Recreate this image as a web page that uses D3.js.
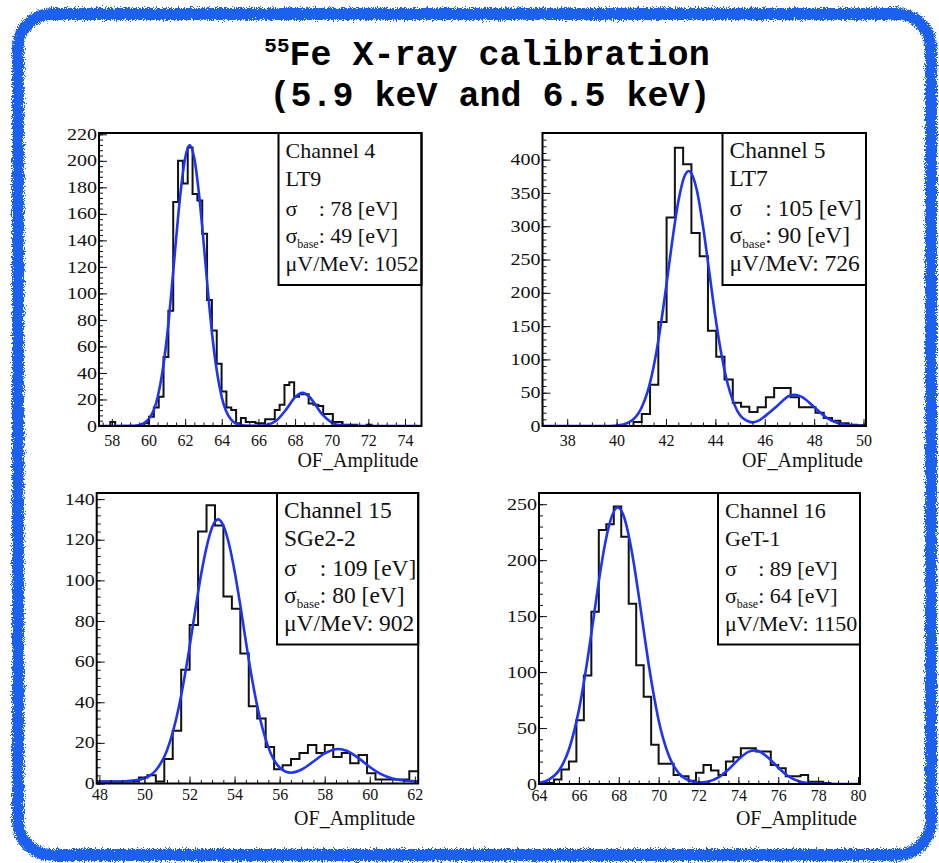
<!DOCTYPE html>
<html>
<head>
<meta charset="utf-8">
<script src="https://cdn.jsdelivr.net/npm/d3@7"></script>
<style>
body { margin: 0; background: #fff; }
text { font-family: "Liberation Serif", "Times New Roman", serif; fill: #111; }
</style>
</head>
<body>
<div id="chart"></div>
<script>
// ---- data ----
var channels  = ["Channel 4", "Channel 5", "Channel 15", "Channel 16"];
var detectors = ["LT9", "LT7", "SGe2-2", "GeT-1"];
var sigmaTot  = [78, 105, 109, 89];
var sigmaBase = [49, 90, 80, 64];
var gains     = [1052, 726, 902, 1150];

var xDomains = [[57.3, 74.9], [37.0, 50.1], [47.88, 62.15], [64.0, 80.1]];
var yMax     = [221, 440, 143, 260];

var xTicks4  = [58, 60, 62, 64, 66, 68, 70, 72, 74];
var xTicks5  = [38, 40, 42, 44, 46, 48, 50];
var xTicks15 = [48, 50, 52, 54, 56, 58, 60, 62];
var xTicks16 = [64, 66, 68, 70, 72, 74, 76, 78, 80];
var yTicks4  = [0, 20, 40, 60, 80, 100, 120, 140, 160, 180, 200, 220];
var yTicks5  = [0, 50, 100, 150, 200, 250, 300, 350, 400];
var yTicks15 = [0, 20, 40, 60, 80, 100, 120, 140];
var yTicks16 = [0, 50, 100, 150, 200, 250];

// histogram bins: first edge, width, counts
var binStart = [57.39, 37.0, 47.88, 64.0];
var binWidth = [0.264, 0.335, 0.375, 0.375];
var counts4 = [0,0,3,0,0,0,0,0,0,2,
  7,14,22,52,87,169,200,183,210,175,
  170,145,95,72,47,26,14,12,2,6,
  3,3,2,2,5,5,12,16,31,33,
  22,24,24,17,16,15,9,9,3,3,
  1,1,1,0,0,1,0,0,0,0,
  0,0,0,0,0,0];
var counts5 = [0,0,0,0,0,0,0,0,0,0,
  0,6,18,62,156,313,418,393,290,255,
  143,104,70,35,29,21,28,43,57,57,
  43,28,28,20,12,8,4,2,1];
var counts15 = [1,1,1,1,1,3,4,1,
  12,26,56,78,124,137,127,92,86,64,38,32,
  18,7,9,12,15,19,15,19,13,15,
  10,14,5,2,2,2,2,6];
var counts16 = [1,1,4,13,20,57,97,154,227,232,
  248,221,161,106,78,35,18,18,8,7,
  3,10,17,12,8,20,24,32,32,29,
  29,17,14,7,7,8,2,2,1,0,
  0,0,0];

// fitted curves
var fitX4 = [57.3,59.0,59.5,60.0,60.5,60.75,61.0,61.25,61.5,61.75,62.0,62.25,62.5,62.75,63.0,63.25,63.5,63.75,64.0,64.5,65.0,65.5,66.0,66.5,67.0,67.5,68.0,68.4,68.8,69.0,69.5,70.0,70.5,71.0,72.0,74.9];
var fitY4 = [0,0.1,0.8,5,21.7,39.8,66,100.8,140,176,202,212,202,176,140,100.8,66,39.8,21.7,5,0.8,0.2,0.2,1.0,4.4,12.2,21.7,25,21.7,18.2,8.5,2.6,0.5,0.1,0,0];
var fitX5 = [37.0,39.5,40.0,40.5,41.0,41.25,41.5,41.75,42.0,42.25,42.5,42.75,42.92,43.0,43.25,43.5,43.75,44.0,44.25,44.5,44.75,45.0,45.25,45.5,45.75,46.0,46.5,47.0,47.2,47.5,48.0,48.5,49.0,49.5,50.0,50.1];
var fitY5 = [0,0,0.8,5.5,26.6,50.7,89,141.8,207,276.5,337,375,383,381,354,300,232.4,164,106.5,63,34,16,8.5,5.5,8,14.5,30,45.5,47,43.8,28.5,12.6,3.7,0.8,0.1,0];
var fitX15 = [47.88,49.0,49.5,50.0,50.5,51.0,51.5,51.75,52.0,52.25,52.5,52.75,53.0,53.27,53.5,53.75,54.0,54.25,54.5,54.75,55.0,55.5,56.0,56.5,57.0,57.5,58.0,58.6,59.0,59.5,60.0,60.5,61.0,61.5,62.0,62.15];
var fitY15 = [1,1,1.4,2.6,6.4,16.3,36.3,50.6,67,85,102,116,126,130,127,118,104.5,88,70,53,38.4,17.8,7.9,5.3,7,10.8,14.8,17,16,12.5,8.1,4.6,2.5,1.5,1.1,1];
var fitX16 = [64.0,64.5,65.0,65.5,66.0,66.5,66.75,67.0,67.25,67.5,67.95,68.25,68.5,68.75,69.0,69.25,69.5,69.75,70.0,70.5,71.0,71.5,72.0,72.5,73.0,73.5,74.0,74.5,74.8,75.0,75.5,76.0,76.5,77.0,77.5,78.0,80.1];
var fitY16 = [1.1,4,12,30.8,66,119,150,181,208.5,230,247,239.4,222,197.7,168.5,137.4,107,80.2,57,25.9,9.8,3.3,1.4,2.3,5.9,12.9,21.8,28.7,30,29.4,23.5,14.6,7.1,2.7,0.8,0.2,0];

// ---- layout ----
var frames = [
  {x: 99,    y: 133, w: 322.5, h: 293},
  {x: 542.5, y: 133, w: 323.5, h: 293},
  {x: 96.7,  y: 493, w: 321.5, h: 290.5},
  {x: 539,   y: 493, w: 321,   h: 291}
];
var legendLeft   = [278.5, 722.5, 277, 718];
var legendBottom = [285, 285, 644.5, 644.5];
var legendFont   = [22, 23.5, 23.5, 22];
var xLabelPad    = [8.5, 8.5, 5.5, 5.5];

var panels = [
  {xt: xTicks4,  yt: yTicks4,  yMinor: 4,  counts: counts4,  fx: fitX4,  fy: fitY4},
  {xt: xTicks5,  yt: yTicks5,  yMinor: 10, counts: counts5,  fx: fitX5,  fy: fitY5},
  {xt: xTicks15, yt: yTicks15, yMinor: 4,  counts: counts15, fx: fitX15, fy: fitY15},
  {xt: xTicks16, yt: yTicks16, yMinor: 10, counts: counts16, fx: fitX16, fy: fitY16}
];

var svg = d3.select("#chart").append("svg")
    .attr("width", 939)
    .attr("height", 863);

// chalky blue border
var defs = svg.append("defs");
var rough = defs.append("filter").attr("id", "rough")
    .attr("x", "-3%").attr("y", "-3%").attr("width", "106%").attr("height", "106%");
rough.append("feTurbulence").attr("type", "fractalNoise")
    .attr("baseFrequency", 1.1).attr("numOctaves", 2).attr("seed", 3).attr("result", "noise");
rough.append("feDisplacementMap").attr("in", "SourceGraphic").attr("in2", "noise")
    .attr("scale", 8).attr("xChannelSelector", "R").attr("yChannelSelector", "G");

svg.append("rect")
    .attr("x", 18).attr("y", 14)
    .attr("width", 913).attr("height", 841)
    .attr("rx", 34)
    .attr("fill", "none")
    .attr("stroke", "#1c60ee")
    .attr("stroke-width", 12)
    .attr("filter", "url(#rough)");

// title
var t1 = svg.append("text")
    .attr("x", 487).attr("y", 65)
    .attr("text-anchor", "middle")
    .style("font-family", "'Liberation Mono', 'Courier New', monospace")
    .style("font-weight", "bold")
    .style("font-size", "35px")
    .style("fill", "#000");
t1.append("tspan").attr("dy", -13).style("font-size", "21px").text("55");
t1.append("tspan").attr("dy", 13).text("Fe X-ray calibration");

svg.append("text")
    .attr("x", 490).attr("y", 106)
    .attr("text-anchor", "middle")
    .style("font-family", "'Liberation Mono', 'Courier New', monospace")
    .style("font-weight", "bold")
    .style("font-size", "35px")
    .style("fill", "#000")
    .text("(5.9 keV and 6.5 keV)");

panels.forEach(function(p, i) {
  var f = frames[i];
  var g = svg.append("g");

  var x = d3.scaleLinear().domain(xDomains[i]).range([f.x, f.x + f.w]);
  var y = d3.scaleLinear().domain([0, yMax[i]]).range([f.y + f.h, f.y]);

  g.append("clipPath").attr("id", "clip" + i)
    .append("rect").attr("x", f.x).attr("y", f.y).attr("width", f.w).attr("height", f.h);

  // histogram as a step line
  var pts = p.counts.map(function(c, j) { return [binStart[i] + j * binWidth[i], c]; });
  pts.push([binStart[i] + p.counts.length * binWidth[i], p.counts[p.counts.length - 1]]);
  var step = d3.line()
      .x(function(d) { return x(d[0]); })
      .y(function(d) { return y(d[1]); })
      .curve(d3.curveStepAfter);
  g.append("path")
      .datum(pts)
      .attr("clip-path", "url(#clip" + i + ")")
      .attr("fill", "none")
      .attr("stroke", "#111")
      .attr("stroke-width", 2)
      .attr("d", step);

  // fit
  var fit = d3.line()
      .x(function(d) { return x(d[0]); })
      .y(function(d) { return y(d[1]); })
      .curve(d3.curveMonotoneX);
  g.append("path")
      .datum(p.fx.map(function(v, j) { return [v, p.fy[j]]; }))
      .attr("clip-path", "url(#clip" + i + ")")
      .attr("fill", "none")
      .attr("stroke", "#1f33f2")
      .attr("stroke-width", 2.6)
      .attr("d", fit);

  // x axis: minor + major ticks pointing inward
  var xd = x.domain(), yd = y.domain();
  var xMinor = d3.range(Math.ceil(xd[0] / 0.5) * 0.5, xd[1], 0.5);
  var yMinor = d3.range(0, yd[1], p.yMinor);

  g.append("g")
      .attr("transform", "translate(0," + (f.y + f.h) + ")")
      .call(d3.axisBottom(x).tickValues(xMinor).tickSize(-3.5).tickFormat(""))
      .call(function(a) { a.select(".domain").remove(); });
  var xa = g.append("g")
      .attr("transform", "translate(0," + (f.y + f.h) + ")")
      .call(d3.axisBottom(x).tickValues(p.xt).tickSizeInner(-7).tickSizeOuter(0)
            .tickPadding(xLabelPad[i]).tickFormat(d3.format("d")))
      .call(function(a) { a.select(".domain").remove(); });
  xa.attr("font-family", null).attr("font-size", null);
  xa.selectAll("text").style("font-size", "16px").style("fill", "#111");

  g.append("g")
      .attr("transform", "translate(" + f.x + ",0)")
      .call(d3.axisLeft(y).tickValues(yMinor).tickSize(-4).tickFormat(""))
      .call(function(a) { a.select(".domain").remove(); });
  var ya = g.append("g")
      .attr("transform", "translate(" + f.x + ",0)")
      .call(d3.axisLeft(y).tickValues(p.yt).tickSizeInner(-8).tickSizeOuter(0)
            .tickPadding(2).tickFormat(d3.format("d")))
      .call(function(a) { a.select(".domain").remove(); });
  ya.attr("font-family", null).attr("font-size", null);
  ya.selectAll("text")
      .style("font-size", "16px").style("fill", "#111")
      .attr("textLength", function(d) { return String(d).length * 10; })
      .attr("lengthAdjust", "spacingAndGlyphs");

  g.selectAll(".tick line").attr("stroke", "#111");

  // axis title
  g.append("text")
      .attr("x", f.x + f.w - 3)
      .attr("y", f.y + f.h + 41)
      .attr("text-anchor", "end")
      .style("font-size", "20px")
      .text("OF_Amplitude");

  // stats box
  var L = legendLeft[i], fs = legendFont[i];
  var lg = g.append("g").style("font-size", fs + "px");
  lg.append("rect")
      .attr("x", L).attr("y", f.y)
      .attr("width", f.x + f.w - L).attr("height", legendBottom[i] - f.y)
      .attr("fill", "#fff").attr("stroke", "#000").attr("stroke-width", 2);
  var tx = L + 7;
  lg.append("text").attr("x", tx).attr("y", f.y + 25).text(channels[i]);
  lg.append("text").attr("x", tx).attr("y", f.y + 53).text(detectors[i]);

  var sb = lg.append("text").attr("x", tx).attr("y", f.y + 110);
  sb.append("tspan").text("σ");
  sb.append("tspan").attr("dy", 5).style("font-size", Math.round(fs * 0.55) + "px").text("base");
  sb.append("tspan").attr("dy", -5).text(": " + sigmaBase[i] + " [eV]");
  var colonX = tx + sb.node().getSubStringLength(0, 5);

  lg.append("text").attr("x", tx).attr("y", f.y + 83).text("σ");
  lg.append("text").attr("x", colonX).attr("y", f.y + 83).text(": " + sigmaTot[i] + " [eV]");
  lg.append("text").attr("x", tx).attr("y", f.y + 138).text("μV/MeV: " + gains[i]);

  // frame
  g.append("rect")
      .attr("x", f.x).attr("y", f.y)
      .attr("width", f.w).attr("height", f.h)
      .attr("fill", "none").attr("stroke", "#000").attr("stroke-width", 2);
});
</script>
</body>
</html>
